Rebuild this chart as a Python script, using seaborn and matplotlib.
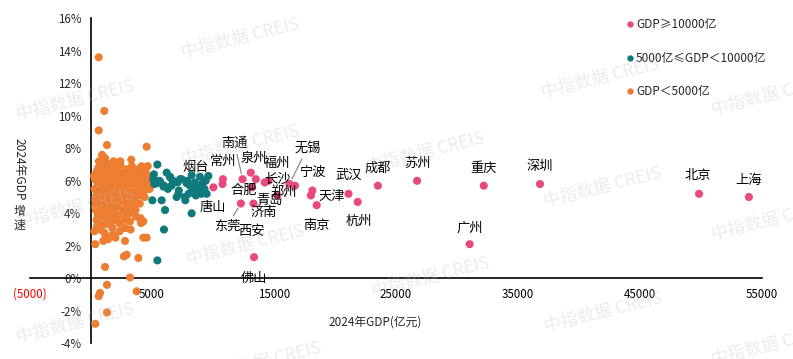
import matplotlib
matplotlib.use("Agg")
import matplotlib.pyplot as plt
from matplotlib.lines import Line2D
import seaborn as sns
import pandas as pd

# ---------------- data ----------------
big_names = ["上海", "北京", "深圳", "重庆", "广州", "苏州", "成都", "杭州", "武汉", "南京",
             "宁波", "天津", "无锡", "青岛", "长沙", "郑州", "福州", "济南", "合肥", "西安",
             "泉州", "南通", "东莞", "常州", "烟台", "唐山", "佛山"]
big_gdp = [53927, 49843, 36802, 32193, 31033, 26727, 23511, 21860, 21106, 18501,
           18148, 18024, 16263, 16720, 15269, 14532, 14237, 13200, 13508, 13318,
           13100, 12422, 12282, 10814, 10782, 10030, 13362]
big_growth = [5.0, 5.2, 5.8, 5.7, 2.1, 6.0, 5.7, 4.7, 5.2, 4.5,
              5.4, 5.1, 5.8, 5.7, 5.1, 6.0, 5.9, 5.6, 6.1, 4.6,
              6.5, 6.1, 4.6, 6.1, 5.8, 5.6, 1.3]

mid_gdp = [5440, 5160, 6200, 5030, 5790, 6070, 7020, 7730, 8250, 5980, 5440, 9620, 9480, 9070,
           6480, 6890, 7430, 7840, 8110, 8660, 9210, 8250, 8930, 5660, 5930, 5380, 7160, 7700,
           6500, 6700, 7100, 7300, 7900, 8300, 8500, 8700, 9100, 9300, 5200, 5600, 6000, 6300,
           6600, 7200, 8000, 8600, 5100, 9400]
mid_growth = [7.0, 6.4, 6.5, 4.8, 4.8, 4.2, 5.0, 4.8, 4.0, 3.0, 1.1, 6.3, 5.2, 5.2,
              6.25, 5.95, 6.1, 5.85, 5.7, 5.55, 5.4, 6.35, 6.25, 5.95, 5.65, 5.85, 5.2, 5.0,
              6.2, 6.0, 5.9, 6.1, 6.0, 5.5, 5.9, 5.4, 5.8, 5.5, 5.8, 6.0, 5.7, 5.5,
              5.7, 5.4, 5.2, 5.1, 6.1, 6.0]

small_gdp = [630, 1090, 630, 1310, 4560, 355, 1150, 3200, 1310, 740, 630, 1310, 355, 3740,
             2920, 2700, 3880, 4290, 4560, 2790, 4070, 4290, 3045, 2790,
             250, 300, 350, 400, 450, 500, 280, 600, 650, 700, 520, 430, 380, 560, 610, 720,
             480, 330, 760, 800, 680, 900, 850, 950, 1000, 880, 920, 980, 1050, 1100, 1200,
             1000, 1150, 1250, 1300, 1350, 1400, 1450, 1500, 1550, 1600, 1650, 1700, 1750,
             1800, 1400, 1300, 1200, 1100, 1050, 1150, 1250, 1350, 1450, 1550, 1650, 1750,
             1850, 1950, 2000, 2050, 2100, 2150, 2200, 2250, 2300, 2350, 1900, 1850, 1950,
             2000, 2400, 2450, 2500, 2550, 2600, 2650, 2700, 2750, 2800, 2450, 2350, 2250,
             2150, 2850, 2900, 2950, 3000, 3050, 3100, 3150, 3200, 3250, 3300, 3350, 3400,
             3450, 3500, 3550, 3600, 3650, 3700, 3750, 3800, 3850, 3900, 3950, 4000, 4050,
             4100, 4150, 4200, 4250, 4300, 4350, 4400, 4450, 4500, 4550, 4600, 4650, 4700,
             4750, 4800, 4850, 4900, 3100, 2700, 2600, 3000, 3400, 3200, 3600, 2900, 3500,
             3900, 4100, 4300, 2000, 1700, 1600, 1500, 800, 750, 900, 600, 1900, 2300, 2500,
             2800, 3300, 3700, 4000, 4200, 4400, 4600, 4800, 700, 1000, 1500, 2100, 2600,
             3100, 3600, 4100, 4700, 500, 1250, 1800, 2400, 3000, 3500]
small_growth = [13.6, 10.3, 9.1, 8.2, 8.1, 2.1, 0.7, 0.05, -0.4, -0.9, -1.1, -2.1, -2.8, -0.8,
                1.45, 1.35, 1.25, 2.5, 2.5, 2.3, 3.7, 3.5, 4.0, 3.1,
                6.3, 5.5, 4.8, 4.2, 3.6, 3.2, 2.9, 6.8, 7.2, 6.0, 5.9, 5.1, 4.5, 3.9, 3.4, 3.0,
                6.6, 6.1, 4.0, 5.3, 4.7, 7.6, 7.0, 6.4, 5.7, 5.0, 4.4, 3.8, 3.3, 2.8, 2.6,
                2.3, 7.4, 7.1, 6.7, 6.2, 5.8, 5.5, 5.1, 4.7, 4.3, 3.9, 3.5, 3.1,
                2.7, 2.4, 3.6, 4.1, 4.6, 5.2, 5.6, 6.0, 4.9, 4.0, 3.3, 6.4, 6.9,
                7.2, 6.6, 6.1, 5.7, 5.3, 4.8, 4.4, 3.9, 3.4, 2.9, 5.0, 4.5, 3.7,
                2.5, 7.0, 6.5, 6.0, 5.6, 5.2, 4.7, 4.2, 3.6, 3.1, 4.9, 5.9, 6.3,
                6.8, 6.7, 6.2, 5.8, 5.4, 5.0, 4.5, 4.0, 3.5, 3.0, 7.3, 6.9, 6.4,
                6.0, 5.6, 5.2, 4.8, 4.2, 3.8, 6.7, 6.2, 5.8, 5.5, 5.1, 4.6, 3.6,
                3.4, 6.9, 6.4, 6.0, 5.7, 5.4, 5.0, 6.6, 6.2, 5.9, 5.6, 6.9, 6.3,
                5.8, 5.5, 6.1, 5.7, 6.6, 5.6, 6.4, 4.8, 5.0, 5.9, 6.1, 3.9, 4.4,
                6.0, 5.6, 6.1, 4.0, 5.9, 6.6, 6.3, 6.2, 6.6, 5.8, 5.0, 6.0, 6.0, 5.0,
                5.9, 5.6, 5.9, 6.0, 5.2, 5.8, 6.0, 6.0, 5.4, 6.2, 6.5, 5.8, 5.9,
                6.3, 5.7, 6.4, 5.5, 4.6, 3.8, 5.4, 7.2, 6.7, 5.3]

group_labels = ["GDP≥10000亿", "5000亿≤GDP＜10000亿", "GDP＜5000亿"]
group_colors = ["#E9497C", "#10797C", "#ED7D31"]

xtick_values = [-5000, 5000, 15000, 25000, 35000, 45000, 55000]
ytick_values = [-4, -2, 0, 2, 4, 6, 8, 10, 12, 14, 16]

x_title = "2024年GDP(亿元)"
y_title_a = "2024年GDP"
y_title_b = "增速"
watermark = "中指数据 CREIS"

# label offsets (pixels, y downward) and leader-line flags
label_offsets = {
    "上海": (0, -17), "北京": (-1, -18), "深圳": (0, -18), "重庆": (0, -17),
    "广州": (0, -16), "苏州": (0, -17), "成都": (0, -17), "武汉": (0, -18),
    "杭州": (1, 19), "南京": (0, 20), "宁波": (0, -18), "天津": (21, 1),
    "无锡": (18, -36), "青岛": (-25, 15), "长沙": (0, -16), "郑州": (15, 12),
    "福州": (12, -19), "济南": (12, 25), "合肥": (-12, 11), "西安": (-2, 28),
    "泉州": (3, -14), "南通": (-8, -36), "东莞": (-14, 23), "常州": (0, -18),
    "烟台": (-27, -17), "唐山": (-1, 20), "佛山": (0, 21),
}
leaders = {"无锡", "南通", "东莞"}

# ---------------- build frame ----------------
df = pd.concat([
    pd.DataFrame({"gdp": small_gdp, "growth": small_growth, "group": group_labels[2]}),
    pd.DataFrame({"gdp": mid_gdp, "growth": mid_growth, "group": group_labels[1]}),
    pd.DataFrame({"gdp": big_gdp, "growth": big_growth, "group": group_labels[0]}),
], ignore_index=True)

sns.set_theme(style="white")
cjk = ["Noto Sans CJK SC", "DejaVu Sans"]
plt.rcParams["font.family"] = cjk
plt.rcParams["axes.unicode_minus"] = False

W, H = 793, 359
fig = plt.figure(figsize=(W / 100, H / 100), dpi=100)
ax = fig.add_axes([30 / W, (H - 343.3) / H, 732 / W, 325 / H])
ax.set_facecolor("none")

sns.scatterplot(data=df, x="gdp", y="growth", hue="group", hue_order=group_labels,
                palette=group_colors, s=34, linewidth=0, edgecolor="none",
                legend=False, ax=ax, zorder=3)

ax.set_xlim(-5000, 55000)
ax.set_ylim(-4, 16)
for side in ["top", "right"]:
    ax.spines[side].set_visible(False)
ax.spines["left"].set_position(("data", 0))
ax.spines["bottom"].set_position(("data", 0))
for side in ["left", "bottom"]:
    ax.spines[side].set_color("black")
    ax.spines[side].set_linewidth(1.2)
    ax.spines[side].set_zorder(2)

ax.set_xticks(xtick_values,
              labels=[f"({abs(v)})" if v < 0 else f"{v}" for v in xtick_values])
ax.set_yticks(ytick_values, labels=[f"{v}%" for v in ytick_values])
ax.tick_params(axis="x", direction="out", length=4, width=1.1, color="black",
               labelsize=8.3, pad=3)
ax.tick_params(axis="y", direction="in", length=5, width=1.1, color="black",
               labelsize=8.3, pad=7)
for lab, v in zip(ax.get_xticklabels(), xtick_values):
    lab.set_color("#FF0000" if v < 0 else "black")
ax.set_xlabel("")
ax.set_ylabel("")
ax.grid(False)

# city labels
for name, gx, gy in zip(big_names, big_gdp, big_growth):
    dx, dy = label_offsets[name]
    kw = {}
    if name in leaders:
        kw["arrowprops"] = dict(arrowstyle="-", color="#808080", lw=0.8,
                                shrinkA=1, shrinkB=4)
    ax.annotate(name, xy=(gx, gy), xytext=(dx, -dy), textcoords="offset pixels",
                ha="center", va="center", fontsize=9.5, color="black", zorder=5, **kw)

# axis titles
def px(x, y):
    return x / W, 1 - y / H

fig.text(*px(375, 322), x_title, ha="center", va="center", fontsize=8.5)
fig.text(*px(19, 169), y_title_a, ha="center", va="center", rotation=-90, fontsize=8.6)
fig.text(*px(19, 212), y_title_b[0], ha="center", va="center", fontsize=8.6)
fig.text(*px(19, 225), y_title_b[1], ha="center", va="center", fontsize=8.6)

# legend
handles = [Line2D([0], [0], marker="o", linestyle="none", markersize=4.6,
                  markerfacecolor=c, markeredgewidth=0) for c in group_colors]
fig.legend(handles, group_labels, loc="upper left", bbox_to_anchor=px(626, 18),
           bbox_transform=fig.transFigure, frameon=False, fontsize=8.5,
           handlelength=0.6, handletextpad=0.25, labelspacing=1.75,
           borderpad=0, borderaxespad=0)

# watermarks
wm_pos = [(240, 38), (600, 78), (770, 95), (75, 100), (240, 145), (425, 152),
          (602, 187), (75, 208), (245, 245), (430, 277), (770, 220), (75, 323),
          (603, 312), (262, 362), (770, 345)]
for (x, y) in wm_pos:
    fig.text(*px(x, y), watermark, ha="center", va="center", rotation=14,
             fontsize=12.5, color="#bfbfbf", alpha=0.3, zorder=10)

fig.savefig("out.png", dpi=100)
